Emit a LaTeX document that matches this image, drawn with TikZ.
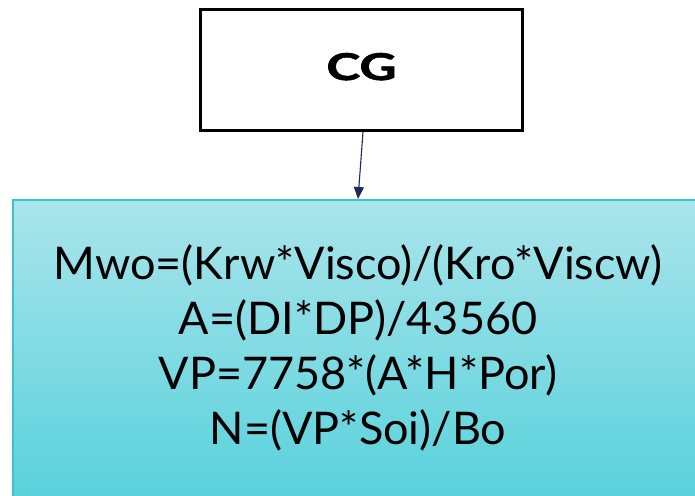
\documentclass[tikz,border=0pt]{standalone}
\usepackage{fontspec}
\setmainfont{Lato}
\usetikzlibrary{arrows.meta}
\definecolor{cyantop}{RGB}{170,228,235}
\definecolor{cyanbot}{RGB}{80,208,218}
\definecolor{cyanedge}{RGB}{60,196,204}
\definecolor{navy}{RGB}{31,42,92}
\tikzset{
  cgbox/.style={draw=black, fill=white, line width=3pt, minimum width=322pt, minimum height=121pt, inner sep=0pt, text depth=7pt, font=\fontsize{37}{40}\selectfont\bfseries\addfontfeature{FakeBold=1.5}},
  calcbox/.style={draw=cyanedge, line width=1.5pt, top color=cyantop, bottom color=cyanbot, minimum width=720pt, minimum height=330pt, anchor=north west, inner sep=0pt},
  eqtext/.style={align=center, font=\fontsize{45}{55}\selectfont, text=black},
  link/.style={draw=navy, line width=1.1pt, -{Triangle[length=12pt,width=10pt]}}
}
\begin{document}
\begin{tikzpicture}[x=1pt,y=-1pt]
\useasboundingbox (0,0) rectangle (695,495);
\clip (0,0) rectangle (695,495);
\node[calcbox] (calc) at (12,199) {};
\node[cgbox] (cg) at (361.5,70) {\scalebox{1.38}[1]{CG}};
\coordinate (tip) at (358,199);
\node[eqtext] (eqs) at (358,348) {Mwo=(Krw*Visco)/(Kro*Viscw)\\A=(DI*DP)/43560\\VP=7758*(A*H*Por)\\N=(VP*Soi)/Bo};
\draw[link] ([xshift=1.5pt]cg.south) -- (tip);
\end{tikzpicture}
\end{document}
